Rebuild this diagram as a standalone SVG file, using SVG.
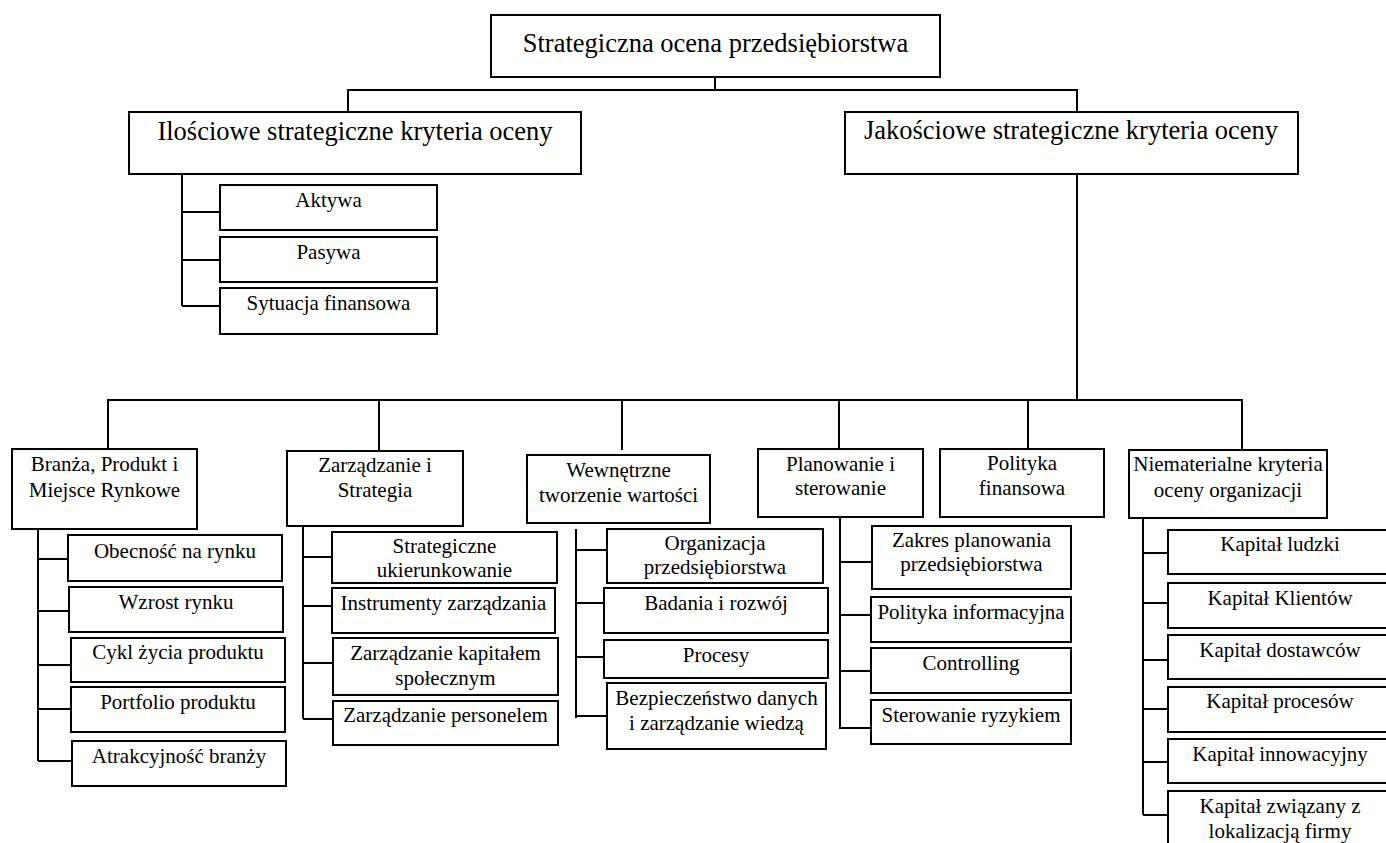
<svg xmlns="http://www.w3.org/2000/svg" width="1386" height="843" viewBox="0 0 1386 843">
<style>
.box{fill:#fff;stroke:#000;stroke-width:2}
.c{fill:none;stroke:#000;stroke-width:2}
text{font-family:'Liberation Serif','Tinos','Times New Roman','DejaVu Serif',serif;font-size:21px;text-anchor:middle;fill:#000}
text.big{font-size:26.5px}
</style>
<rect width="1386" height="843" fill="#fff"/>
<g id="connectors">
<path class="c" d="M715,77V90M348,112V90H1077V112"/>
<path class="c" d="M182,174V306M182,212H220M182,260H220M182,306H220"/>
<path class="c" d="M1077,174V400M108,449V400H1242V450M379,400V451M622,400V450M839,400V449M1028,400V449"/>
<path class="c" d="M38,529V761M38,559H68M38,611H69M38,665H71M38,709H71M38,761H72"/>
<path class="c" d="M303,526V719M303,557H332M303,606H332M303,663H333M303,719H333"/>
<path class="c" d="M576,529V718M576,550H607M576,603H604M576,657H604M576,716H607"/>
<path class="c" d="M840,517V729M840,562H872M840,615H871M840,671H871M840,728H871"/>
<path class="c" d="M1143,518V815M1143,553H1168M1143,603H1168M1143,660H1168M1143,709H1168M1143,762H1168M1143,815H1168"/>
</g>
<g font-family="Liberation Serif, Times New Roman, serif">
<g id="root"><rect class="box" x="491" y="15" width="449" height="62"/><text class="big" x="715.5" y="52">Strategiczna ocena przedsiębiorstwa</text></g>
<g id="ilosciowe"><rect class="box" x="129" y="112" width="452" height="62"/><text class="big" x="355" y="140">Ilościowe strategiczne kryteria oceny</text></g>
<g id="jakosciowe"><rect class="box" x="845" y="112" width="453" height="62"/><text class="big" x="1071" y="139">Jakościowe strategiczne kryteria oceny</text></g>
<g id="aktywa"><rect class="box" x="220" y="185" width="217" height="45"/><text x="328.5" y="207">Aktywa</text></g>
<g id="pasywa"><rect class="box" x="220" y="237" width="217" height="45"/><text x="328.5" y="259">Pasywa</text></g>
<g id="sytuacja"><rect class="box" x="220" y="288" width="217" height="46"/><text x="328.5" y="310">Sytuacja finansowa</text></g>
<g id="branza"><rect class="box" x="12" y="449" width="185" height="80"/><text x="104.5" y="471">Branża, Produkt i</text><text x="104.5" y="497">Miejsce Rynkowe</text></g>
<g id="zarzadzanie"><rect class="box" x="287" y="451" width="176" height="75"/><text x="375" y="472">Zarządzanie i</text><text x="375" y="497">Strategia</text></g>
<g id="wewnetrzne"><rect class="box" x="527" y="455" width="183" height="68"/><text x="618.5" y="477">Wewnętrzne</text><text x="618.5" y="502">tworzenie wartości</text></g>
<g id="planowanie"><rect class="box" x="758" y="449" width="165" height="68"/><text x="840.5" y="471">Planowanie i</text><text x="840.5" y="495">sterowanie</text></g>
<g id="polityka"><rect class="box" x="940" y="449" width="164" height="68"/><text x="1022" y="470">Polityka</text><text x="1022" y="495">finansowa</text></g>
<g id="niematerialne"><rect class="box" x="1129" y="450" width="198" height="68"/><text x="1228" y="471">Niematerialne kryteria</text><text x="1228" y="497">oceny organizacji</text></g>
<g id="obecnosc"><rect class="box" x="68" y="535" width="214" height="46"/><text x="175" y="558">Obecność na rynku</text></g>
<g id="wzrost"><rect class="box" x="69" y="587" width="214" height="45"/><text x="176" y="609">Wzrost rynku</text></g>
<g id="cykl"><rect class="box" x="71" y="638" width="214" height="44"/><text x="178" y="659">Cykl życia produktu</text></g>
<g id="portfolio"><rect class="box" x="71" y="687" width="214" height="45"/><text x="178" y="709">Portfolio produktu</text></g>
<g id="atrakcyjnosc"><rect class="box" x="72" y="741" width="214" height="45"/><text x="179" y="763">Atrakcyjność branży</text></g>
<g id="strategiczne"><rect class="box" x="332" y="532" width="225" height="51"/><text x="444.5" y="553">Strategiczne</text><text x="444.5" y="577">ukierunkowanie</text></g>
<g id="instrumenty"><rect class="box" x="332" y="588" width="223" height="45"/><text x="443.5" y="610">Instrumenty zarządzania</text></g>
<g id="kapitalem"><rect class="box" x="333" y="638" width="225" height="57"/><text x="445.5" y="660">Zarządzanie kapitałem</text><text x="445.5" y="685">społecznym</text></g>
<g id="personelem"><rect class="box" x="333" y="701" width="225" height="44"/><text x="445.5" y="722">Zarządzanie personelem</text></g>
<g id="organizacja"><rect class="box" x="607" y="529" width="216" height="54"/><text x="715" y="550">Organizacja</text><text x="715" y="574">przedsiębiorstwa</text></g>
<g id="badania"><rect class="box" x="604" y="588" width="224" height="45"/><text x="716" y="610">Badania i rozwój</text></g>
<g id="procesy"><rect class="box" x="604" y="640" width="224" height="38"/><text x="716" y="662">Procesy</text></g>
<g id="bezpieczenstwo"><rect class="box" x="607" y="683" width="219" height="66"/><text x="716.5" y="705">Bezpieczeństwo danych</text><text x="716.5" y="730">i zarządzanie wiedzą</text></g>
<g id="zakres"><rect class="box" x="872" y="526" width="199" height="63"/><text x="971.5" y="547">Zakres planowania</text><text x="971.5" y="571">przedsiębiorstwa</text></g>
<g id="informacyjna"><rect class="box" x="871" y="597" width="200" height="45"/><text x="971" y="619">Polityka informacyjna</text></g>
<g id="controlling"><rect class="box" x="871" y="648" width="200" height="45"/><text x="971" y="670">Controlling</text></g>
<g id="ryzyko"><rect class="box" x="871" y="700" width="200" height="44"/><text x="971" y="722">Sterowanie ryzykiem</text></g>
<g id="ludzki"><rect class="box" x="1168" y="530" width="224" height="44"/><text x="1280" y="551">Kapitał ludzki</text></g>
<g id="klientow"><rect class="box" x="1168" y="583" width="224" height="45"/><text x="1280" y="605">Kapitał Klientów</text></g>
<g id="dostawcow"><rect class="box" x="1168" y="635" width="224" height="44"/><text x="1280" y="657">Kapitał dostawców</text></g>
<g id="procesow"><rect class="box" x="1168" y="687" width="224" height="45"/><text x="1280" y="708">Kapitał procesów</text></g>
<g id="innowacyjny"><rect class="box" x="1168" y="739" width="224" height="44"/><text x="1280" y="761">Kapitał innowacyjny</text></g>
<g id="lokalizacja"><rect class="box" x="1168" y="791" width="224" height="60"/><text x="1280" y="813">Kapitał związany z</text><text x="1280" y="838">lokalizacją firmy</text></g>
</g>
</svg>
